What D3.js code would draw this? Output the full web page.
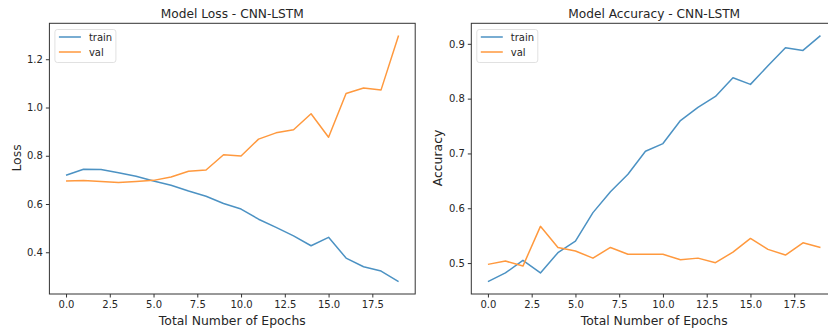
<!DOCTYPE html>
<html><head><meta charset="utf-8">
<script src="https://cdn.jsdelivr.net/npm/d3@7"></script>
<style>
body{margin:0;background:#fff;}
text{font-family:"DejaVu Sans",sans-serif;fill:#262626;}
</style></head>
<body><svg id="c" width="828" height="335"></svg>
<script>
const epochs = d3.range(0, 20);
const xTicks = [0, 2.5, 5, 7.5, 10, 12.5, 15, 17.5];
const lossTrain = [0.719,0.744,0.743,0.730,0.715,0.695,0.678,0.654,0.632,0.602,0.579,0.537,0.503,0.468,0.427,0.462,0.376,0.340,0.322,0.278];
const lossVal   = [0.695,0.697,0.693,0.689,0.693,0.698,0.712,0.736,0.741,0.804,0.799,0.869,0.895,0.908,0.974,0.877,1.058,1.081,1.073,1.298];
const accTrain  = [0.466,0.482,0.505,0.482,0.519,0.540,0.592,0.630,0.662,0.704,0.718,0.760,0.784,0.804,0.838,0.826,0.860,0.893,0.888,0.915];
const accVal    = [0.4976,0.5036,0.4945,0.567,0.5285,0.522,0.509,0.5285,0.516,0.516,0.516,0.506,0.509,0.5006,0.520,0.545,0.525,0.5146,0.537,0.5285];
const lossTicks = [0.4, 0.6, 0.8, 1.0, 1.2];
const accTicks  = [0.5, 0.6, 0.7, 0.8, 0.9];
const seriesNames = ["train", "val"];
const colors = ["#4c92c3", "#ff993e"];

const svg = d3.select("#c");

function panel(opt){
  const g = svg.append("g");
  const allV = opt.series.flat();
  const ext = d3.extent(allV), pad = (ext[1]-ext[0])*0.05;
  const x = d3.scaleLinear().domain([-0.95, 19.95]).range([opt.left, opt.left + 365.8]);
  const y = d3.scaleLinear().domain([ext[0]-pad, ext[1]+pad]).range([294, 23.3]);
  const clip = "clip" + opt.id;
  svg.append("clipPath").attr("id", clip).append("rect")
    .attr("x", opt.left).attr("y", 23.3).attr("width", 365.8).attr("height", 294-23.3);
  const line = d3.line().x((d,i)=>x(epochs[i])).y(d=>y(d));
  opt.series.forEach((s, k) => {
    g.append("path").datum(s).attr("d", line).attr("fill","none")
      .attr("stroke", colors[k]).attr("stroke-width", 1.5).attr("stroke-linejoin","round")
      .attr("clip-path", `url(#${clip})`);
  });
  g.append("rect").attr("x", opt.left).attr("y", 23.3).attr("width", 365.8).attr("height", 294-23.3)
    .attr("fill","none").attr("stroke","#333").attr("stroke-width",1);
  const xa = g.append("g").attr("transform","translate(0,294)")
    .call(d3.axisBottom(x).tickValues(xTicks).tickFormat(d3.format(".1f")).tickSize(3.5).tickPadding(3));
  const ya = g.append("g").attr("transform",`translate(${opt.left},0)`)
    .call(d3.axisLeft(y).tickValues(opt.ticks).tickFormat(d3.format(".1f")).tickSize(3.5).tickPadding(3));
  [xa, ya].forEach(a => {
    a.select(".domain").remove();
    a.selectAll("line").attr("stroke","#333");
    a.selectAll("text").attr("font-size","10px").attr("font-family","DejaVu Sans").attr("fill","#262626");
  });
  g.append("text").attr("x", opt.left + 182.9).attr("y", 17.5).attr("text-anchor","middle")
    .attr("font-size","12.2px").text(opt.title);
  g.append("text").attr("x", opt.left + 182.9).attr("y", 325).attr("text-anchor","middle")
    .attr("font-size","12.4px").text("Total Number of Epochs");
  g.append("text").attr("transform",`translate(${opt.ylx},158) rotate(-90)`).attr("text-anchor","middle")
    .attr("font-size","12.4px").text(opt.ylabel);
  const lg = g.append("g").attr("transform",`translate(${opt.left + 5.5},29.5)`);
  lg.append("rect").attr("width", 61).attr("height", 33).attr("rx", 2.5)
    .attr("fill","#fff").attr("fill-opacity",0.8).attr("stroke","#d9d9d9").attr("stroke-width",0.8);
  seriesNames.forEach((n,k) => {
    const yy = 7.5 + k*15;
    lg.append("line").attr("x1",4).attr("x2",26).attr("y1",yy).attr("y2",yy)
      .attr("stroke",colors[k]).attr("stroke-width",1.5);
    lg.append("text").attr("x",34).attr("y",yy+3.6).attr("font-size","10px").text(n);
  });
}

panel({id:1, left:49.4, series:[lossTrain, lossVal], ticks:lossTicks, title:"Model Loss - CNN-LSTM", ylabel:"Loss", ylx:21});
panel({id:2, left:471.3, series:[accTrain, accVal], ticks:accTicks, title:"Model Accuracy - CNN-LSTM", ylabel:"Accuracy", ylx:442});
</script></body></html>
